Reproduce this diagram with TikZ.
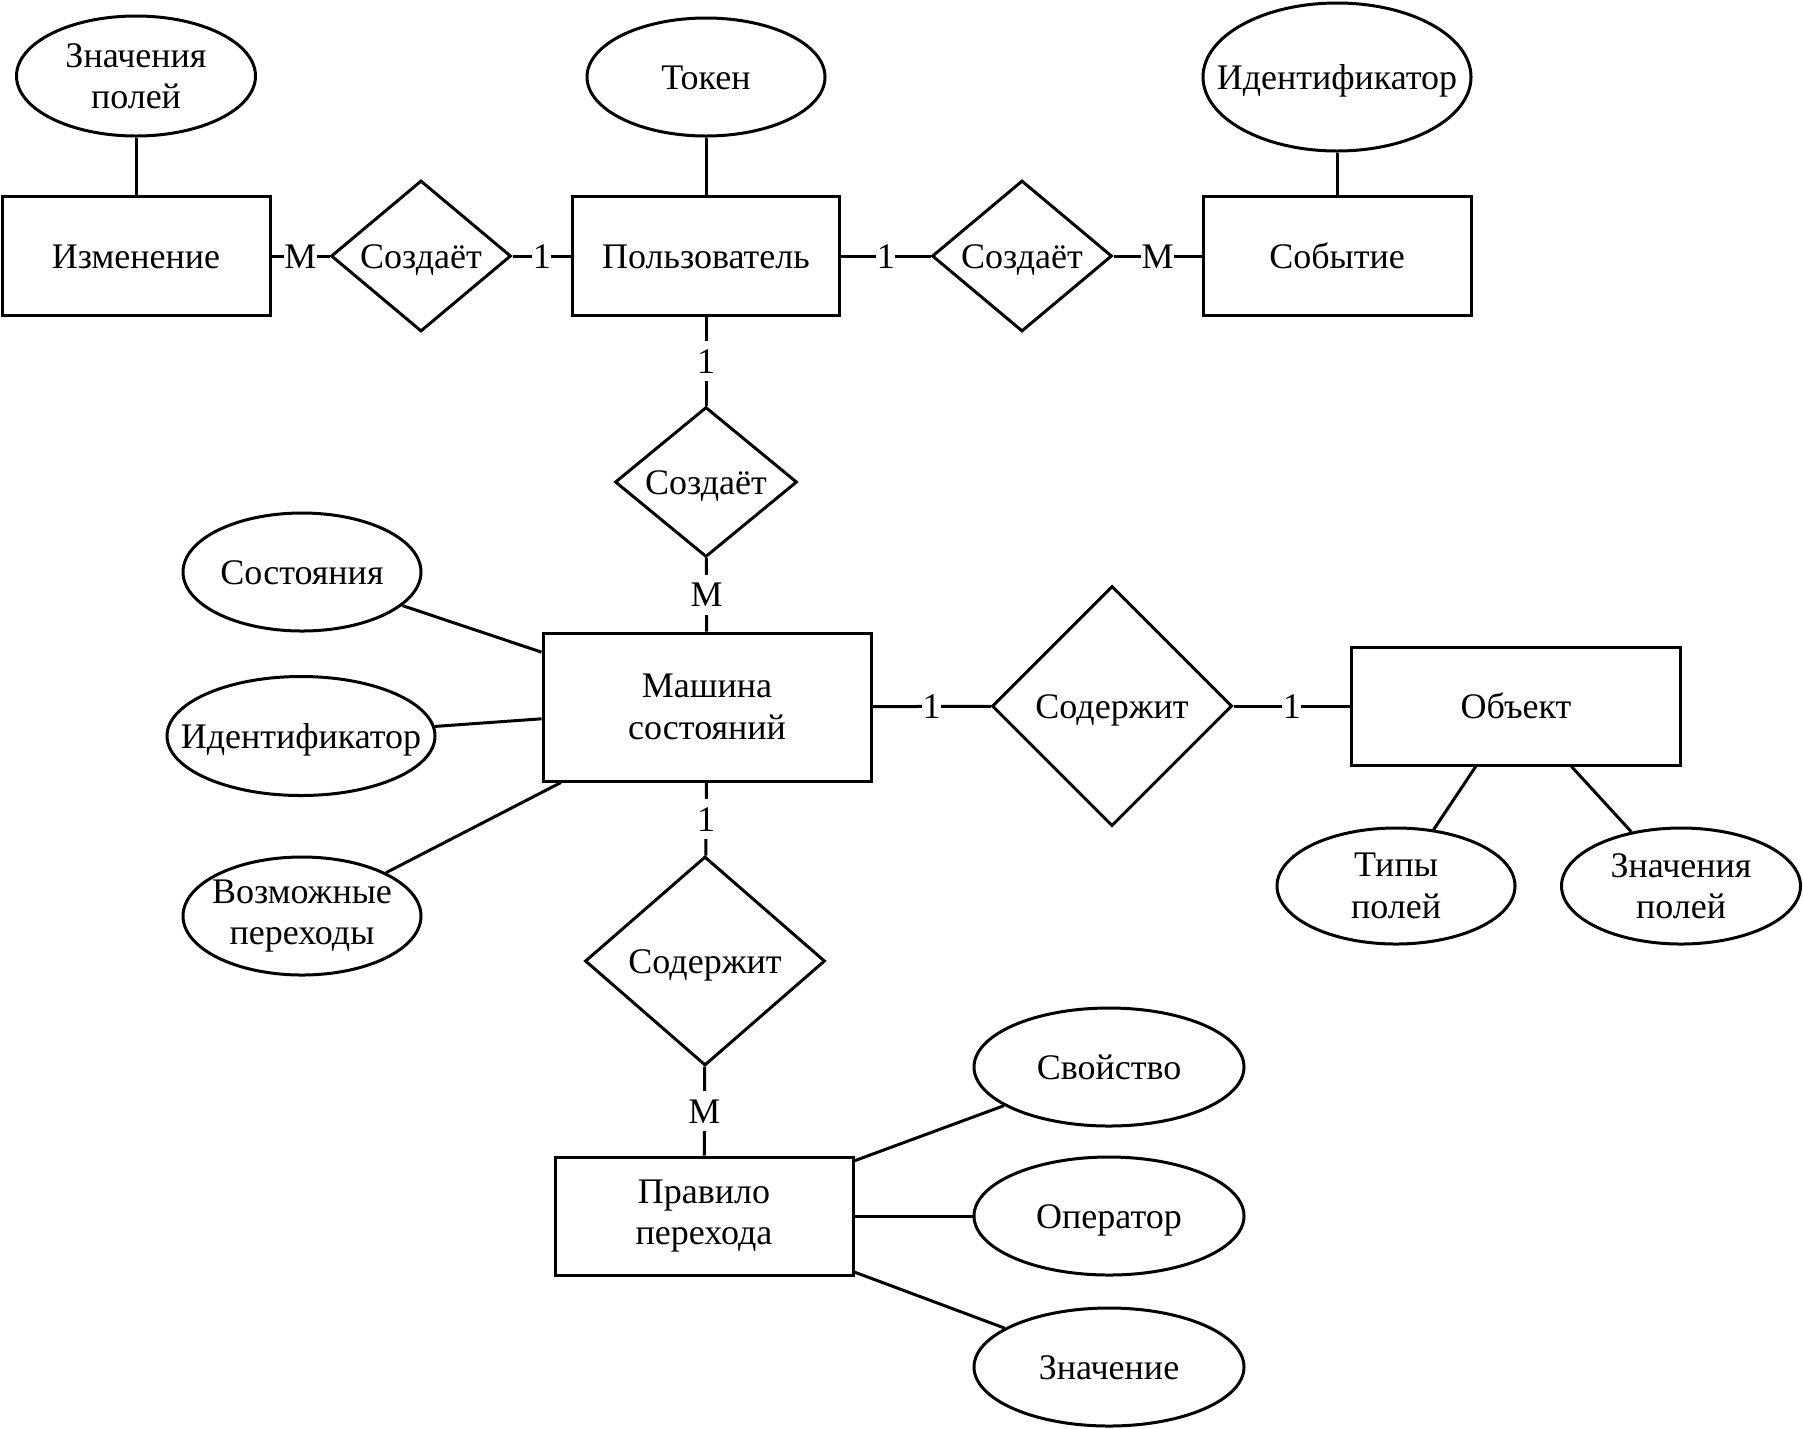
\documentclass[tikz,border=0pt]{standalone}
\usepackage{fontspec}
\setmainfont{Liberation Serif}
\newfontfamily\tnrfont{Liberation Serif}
\usetikzlibrary{shapes.geometric}
\begin{document}
\begin{tikzpicture}[x=1pt,y=-1pt,
  every node/.style={font=\tnrfont\fontsize{36}{41.5}\selectfont},
  one/.style={text height=30pt, text depth=6pt},
  two/.style={align=center},
  ent/.style={draw, rectangle, line width=3pt, inner sep=2pt},
  rel/.style={draw, diamond, line width=3pt, inner sep=1pt, one},
  attr/.style={draw, ellipse, line width=3pt, inner sep=0pt},
  lab/.style={fill=white, inner xsep=0.5pt, inner ysep=0pt, minimum height=40pt, text height=30pt, text depth=6pt},
  conn/.style={line width=3pt}]
\useasboundingbox (0,0) rectangle (1803,1428);
% entities
\node[ent, one, minimum width=268pt, minimum height=119pt] (izm) at (136,256) {Изменение};
\node[ent, one, minimum width=267pt, minimum height=119pt] (pol) at (706,256) {Пользователь};
\node[ent, one, minimum width=268pt, minimum height=119pt] (sob) at (1337,256) {Событие};
\node[ent, two, minimum width=328pt, minimum height=148pt] (mash) at (707,707) {Машина\\состояний};
\node[ent, one, minimum width=329pt, minimum height=118pt] (obj) at (1516,706) {Объект};
\node[ent, two, minimum width=298pt, minimum height=118pt] (prav) at (704,1216) {Правило\\перехода};
% relations
\node[rel, shape aspect=1.19, minimum width=180pt, minimum height=151pt] (r1) at (421,256) {Создаёт};
\node[rel, shape aspect=1.19, minimum width=180pt, minimum height=151pt] (r2) at (1022,256) {Создаёт};
\node[rel, shape aspect=1.19, minimum width=182pt, minimum height=150pt] (r3) at (706,482) {Создаёт};
\node[rel, shape aspect=1, minimum width=240pt, minimum height=240pt] (r4) at (1112,706) {Содержит};
\node[rel, shape aspect=1.15, minimum width=240pt, minimum height=209pt] (r5) at (705,961) {Содержит};
% attributes
\node[attr, minimum width=239pt, minimum height=120pt, label={[two]center:Значения\\полей}] (a1) at (136,76) {};
\node[attr, minimum width=238pt, minimum height=118pt, label={[one]center:Токен}] (a2) at (706,77) {};
\node[attr, minimum width=268pt, minimum height=148pt, label={[one]center:Идентификатор}] (a3) at (1337,77) {};
\node[attr, minimum width=238pt, minimum height=118pt, label={[one]center:Состояния}] (a4) at (302,572) {};
\node[attr, minimum width=268pt, minimum height=119pt, label={[one]center:Идентификатор}] (a5) at (301,736) {};
\node[attr, minimum width=238pt, minimum height=118pt, label={[two]center:Возможные\\переходы}] (a6) at (302,916) {};
\node[attr, minimum width=238pt, minimum height=116pt, label={[two]center:Типы\\полей}] (a7) at (1396,886) {};
\node[attr, minimum width=239pt, minimum height=116pt, label={[two]center:Значения\\полей}] (a8) at (1681,886) {};
\node[attr, minimum width=270pt, minimum height=118pt, label={[one]center:Свойство}] (a9) at (1109,1067) {};
\node[attr, minimum width=270pt, minimum height=118pt, label={[one]center:Оператор}] (a10) at (1109,1216) {};
\node[attr, minimum width=270pt, minimum height=118pt, label={[one]center:Значение}] (a11) at (1109,1367) {};
% relationship connectors
\draw[conn] (izm) -- node[lab] {M} (r1);
\draw[conn] (r1) -- node[lab] {1} (pol);
\draw[conn] (pol) -- node[lab] {1} (r2);
\draw[conn] (r2) -- node[lab] {M} (sob);
\draw[conn] (pol) -- node[lab] {1} (r3);
\draw[conn] (r3) -- node[lab] {M} (mash);
\draw[conn] (mash) -- node[lab] {1} (r4);
\draw[conn] (r4) -- node[lab] {1} (obj);
\draw[conn] (mash) -- node[lab] {1} (r5);
\draw[conn] (r5) -- node[lab] {M} (prav);
% attribute connectors
\draw[conn] (a1) -- (izm);
\draw[conn] (a2) -- (pol);
\draw[conn] (a3) -- (sob);
\draw[conn] (a4) -- (mash);
\draw[conn] (a5) -- (mash);
\draw[conn] (a6) -- (mash);
\draw[conn] (obj) -- (a7);
\draw[conn] (obj) -- (a8);
\draw[conn] (prav) -- (a9);
\draw[conn] (prav) -- (a10);
\draw[conn] (prav) -- (a11);
\end{tikzpicture}
\end{document}
